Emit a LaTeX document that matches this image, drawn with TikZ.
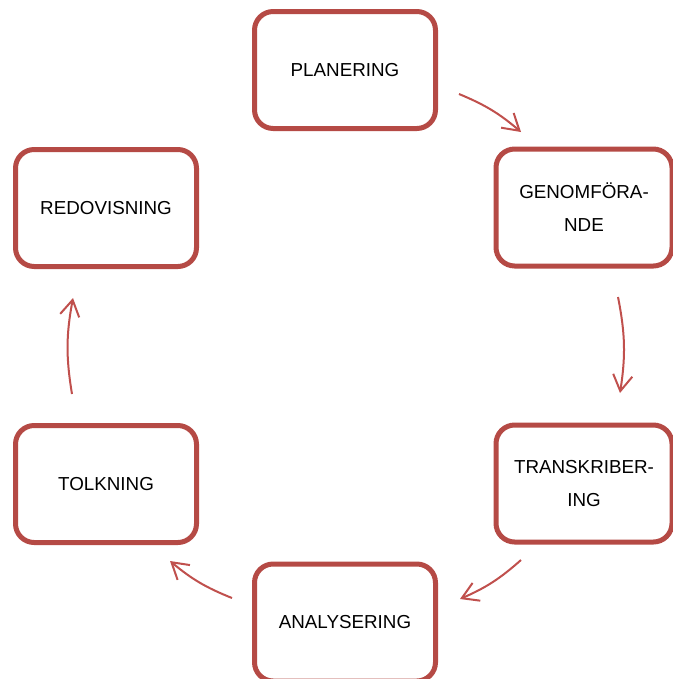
\documentclass[tikz,border=0pt]{standalone}
\usepackage{fontspec}
\setmainfont{Liberation Sans}
\usetikzlibrary{arrows.meta}
\definecolor{boxred}{RGB}{181,74,69}
\definecolor{arrred}{RGB}{192,80,77}
\begin{document}
\begin{tikzpicture}[x=0.75pt,y=-0.75pt,
  stage/.style={draw=boxred, line width=3.75pt, rounded corners=14pt, fill=white,
    minimum width=135.75pt, minimum height=87.75pt, align=center, inner sep=0pt,
    font=\fontsize{14.1}{24.75}\selectfont},
  stageR/.style={stage, minimum width=132pt},
  flow/.style={draw=arrred, line width=1.5pt, -{Straight Barb[length=12pt,width=14.5pt]}}]
\useasboundingbox (0,0) rectangle (672,679);
\node[stage]  (plan) at (345,70)    {PLANERING};
\node[stageR] (gen)  at (584,207.5) {GENOMFÖRA-\\NDE};
\node[stageR] (tra)  at (584,483.5) {TRANSKRIBER-\\ING};
\node[stage]  (ana)  at (345,622.5) {ANALYSERING};
\node[stage]  (tol)  at (106,484)   {TOLKNING};
\node[stage]  (red)  at (106,208)   {REDOVISNING};
\coordinate (a1s) at (459,94);  \coordinate (a1e) at (521,132);
\coordinate (a2s) at (618,297); \coordinate (a2e) at (620,393);
\coordinate (a3s) at (521,560); \coordinate (a3e) at (460,599);
\coordinate (a4s) at (232,598); \coordinate (a4e) at (170,561);
\coordinate (a5s) at (72,394);  \coordinate (a5e) at (73,298);
\draw[flow] (a1s) to[bend left=9] (a1e);
\draw[flow] (a2s) to[bend left=10] (a2e);
\draw[flow] (a3s) to[bend left=9] (a3e);
\draw[flow] (a4s) to[bend left=9] (a4e);
\draw[flow] (a5s) to[bend left=10] (a5e);
\end{tikzpicture}
\end{document}
